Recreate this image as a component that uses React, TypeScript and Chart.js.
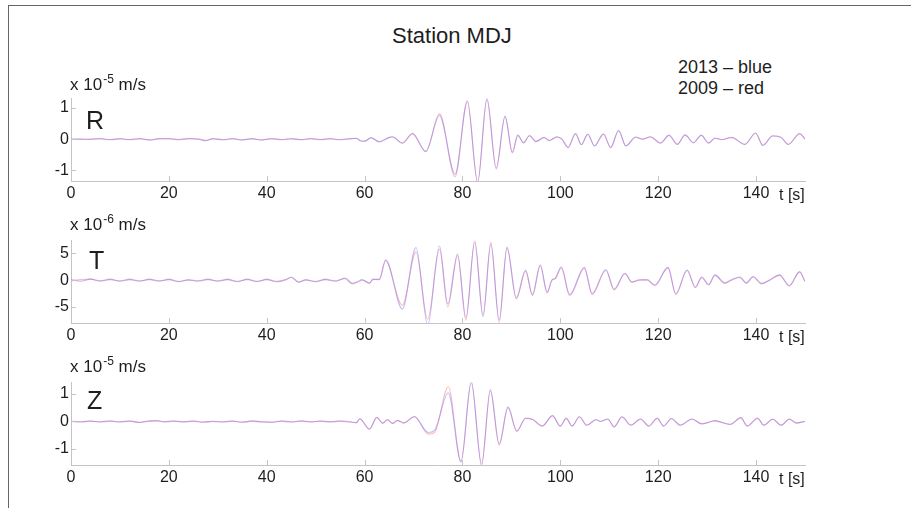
import { useEffect, useRef } from "react";
import { Chart, registerables } from "chart.js";

Chart.register(...registerables);

// ---------- data ----------
const X_TICKS = [0, 20, 40, 60, 80, 100, 120, 140];

const R_TIME = [0, 2, 4, 6, 8, 10, 12, 14, 16, 18, 20, 22, 24, 26, 27.5, 29, 31, 33, 35, 37, 39, 41, 43, 45, 47, 49, 51, 53, 55, 57, 58.3, 59.2, 60, 61.3, 63, 65, 65.7, 67.7, 69.8, 72.5, 75.3, 78.5, 81, 83.1, 85, 86.9, 88.7, 90.2, 91.3, 92.5, 93.7, 95, 96.7, 97.7, 99.3, 100.3, 101.6, 103.1, 104.3, 105.6, 107, 108.8, 110.3, 111.9, 113.4, 115.4, 116.8, 118.4, 120.5, 122.2, 123.9, 125.5, 127.2, 128.8, 130.3, 131.6, 133, 135, 137.7, 139.9, 141.4, 143.4, 145.1, 146.6, 148.9, 150];
const R_2013 = [0, 0.01, -0.01, 0.02, -0.02, 0.01, -0.01, 0.02, -0.03, 0.01, 0.02, -0.01, 0.02, 0, -0.05, 0.01, -0.02, 0.02, -0.02, 0.01, -0.03, 0.02, -0.01, 0.01, -0.02, 0.02, -0.01, 0.02, -0.02, 0.01, 0.03, -0.05, -0.07, 0.05, -0.09, 0.05, 0.08, -0.12, 0.18, -0.39, 0.76, -1.12, 1.2, -1.4, 1.32, -0.92, 0.74, -0.42, 0.13, -0.12, 0.11, -0.07, 0.05, -0.05, 0.08, 0.0, -0.27, 0.18, -0.17, 0.16, -0.22, 0.16, -0.27, 0.28, -0.22, 0.06, 0.0, 0.08, -0.12, 0.13, -0.17, 0.13, -0.12, 0.13, -0.12, 0.03, -0.02, 0.06, -0.17, 0.2, -0.2, 0.1, 0.06, -0.17, 0.18, 0];
const R_2009 = [0, -0.01, 0.01, 0.01, -0.01, 0.02, -0.02, 0.01, -0.02, 0.02, 0.01, -0.02, 0.01, 0.01, -0.04, 0.02, -0.01, 0.01, -0.03, 0.02, -0.02, 0.01, -0.02, 0.02, -0.01, 0.01, -0.02, 0.01, -0.01, 0.02, 0.02, -0.06, -0.06, 0.04, -0.08, 0.06, 0.07, -0.13, 0.17, -0.4, 0.82, -1.2, 1.24, -1.36, 1.26, -0.96, 0.72, -0.44, 0.12, -0.11, 0.12, -0.08, 0.06, -0.04, 0.07, 0.01, -0.25, 0.17, -0.18, 0.15, -0.21, 0.17, -0.26, 0.27, -0.21, 0.07, 0.01, 0.07, -0.13, 0.12, -0.16, 0.14, -0.11, 0.12, -0.13, 0.04, -0.01, 0.05, -0.16, 0.19, -0.19, 0.11, 0.05, -0.16, 0.17, 0.01];

const T_TIME = [0, 2, 4, 6, 8, 10, 12, 14, 16, 18, 20, 22, 24, 26, 28, 30, 32, 34, 36, 38, 40, 42, 44, 45, 46.5, 48, 50, 52, 54, 56, 57.5, 58.5, 59.5, 61, 61.7, 63, 64.3, 67.7, 70.5, 72.9, 75.3, 77, 79, 80.7, 82.5, 84.2, 85.8, 87.5, 89.1, 91, 92.9, 94.3, 95.9, 97.3, 98.3, 99, 100.2, 101.9, 104.9, 106.5, 109.3, 111, 113.2, 114.6, 116.2, 117.8, 119.3, 122, 123.6, 125.9, 127.6, 128.9, 130.3, 131.6, 133.6, 135, 136.7, 138, 139.4, 141.1, 142.8, 144.8, 146.8, 148.9, 150];
const T_2013 = [0.1, -0.2, 0.2, -0.1, 0.2, -0.2, 0.1, -0.2, 0.2, -0.1, 0.1, -0.3, 0.1, -0.1, 0.2, -0.2, 0.1, -0.3, 0.2, -0.2, 0.1, -0.3, 0.1, 0.6, -0.4, 0.1, -0.3, 0.1, -0.2, 0.4, -0.6, -0.3, 0.1, -0.6, 0.2, 0.1, 3.8, -5.4, 6.1, -8.4, 6.4, -4.4, 4.9, -7.0, 7.1, -6.8, 6.8, -7.5, 6.2, -3.3, 1.9, -2.7, 2.9, -2.2, 0.0, 0.4, 2.5, -2.7, 2.4, -2.5, 2.0, -1.7, 1.3, -0.3, 0.0, 0.1, -0.9, 2.4, -2.5, 1.9, -1.3, 0.6, -0.8, 1.0, -0.5, 0.1, 0.6, -0.5, 0.7, -0.6, 0.0, 1.0, -1.0, 1.6, -0.2];
const T_2009 = [-0.1, 0.1, 0.2, -0.2, 0.1, -0.1, 0.2, -0.1, 0.1, -0.2, 0.2, -0.2, 0.0, -0.2, 0.1, -0.1, 0.2, -0.2, 0.1, -0.3, 0.2, -0.2, 0.2, 0.5, -0.3, 0.0, -0.2, 0.2, -0.1, 0.3, -0.7, -0.4, 0.0, -0.5, 0.1, 0.2, 3.6, -4.7, 5.3, -7.3, 5.8, -5.0, 4.6, -7.5, 7.5, -6.5, 7.1, -7.9, 6.0, -3.5, 1.7, -2.9, 2.7, -2.4, 0.1, 0.3, 2.3, -2.9, 2.2, -2.7, 1.8, -1.8, 1.2, -0.4, 0.1, 0.0, -1.0, 2.3, -2.7, 1.8, -1.4, 0.5, -0.9, 0.9, -0.6, 0.0, 0.5, -0.6, 0.6, -0.7, 0.1, 0.9, -1.1, 1.5, -0.3];

const Z_TIME = [0, 2, 4, 6, 8, 10, 12, 14, 16, 17.5, 19, 21, 23, 25, 27, 29, 31, 33, 35, 37, 39, 41, 43, 45, 47, 49, 51, 53, 55, 57, 58.3, 59, 61, 62.5, 63.7, 64.7, 65.7, 66.7, 68, 70.2, 73, 74.3, 77.1, 79.7, 81.8, 83.9, 85.7, 87.5, 89.3, 91.1, 92.9, 94.3, 96.3, 98.4, 100, 101.2, 102.4, 103.9, 105.4, 107.3, 108.2, 109.7, 111, 112.6, 114.4, 116.4, 118.1, 119.8, 121.1, 122.7, 124.5, 126.9, 128.9, 131.6, 134.7, 136.9, 138.2, 140.3, 141.6, 143.4, 145.1, 146.8, 148.2, 150];
const Z_2013 = [0, -0.02, 0.01, -0.01, 0.02, -0.02, 0.01, -0.04, 0.01, 0.03, -0.02, 0.01, -0.02, 0.01, -0.03, 0, -0.02, 0.01, -0.03, 0.02, -0.01, -0.03, 0.01, -0.02, 0.02, -0.01, 0.01, -0.02, 0.01, -0.02, -0.04, 0.1, -0.28, 0.15, -0.06, 0.06, -0.08, 0.03, -0.06, 0.17, -0.4, -0.32, 1.04, -1.47, 1.46, -1.6, 1.16, -0.82, 0.53, -0.34, 0.11, 0.08, -0.17, 0.21, -0.17, 0.11, -0.17, 0.17, -0.14, 0.06, 0.0, 0.09, -0.2, 0.17, -0.14, 0.09, -0.17, 0.11, -0.17, 0.11, -0.14, 0.09, -0.09, 0.02, -0.11, 0.14, -0.17, 0.11, -0.14, 0.09, -0.14, 0.08, -0.06, 0];
const Z_2009 = [0.01, -0.01, 0.02, -0.02, 0.01, -0.01, 0.02, -0.03, 0.02, 0.02, -0.01, 0.02, -0.01, 0.02, -0.02, 0.01, -0.01, 0.02, -0.02, 0.01, -0.02, -0.02, 0.02, -0.01, 0.01, -0.02, 0.02, -0.01, 0.02, -0.01, -0.05, 0.09, -0.27, 0.14, -0.07, 0.07, -0.07, 0.04, -0.05, 0.18, -0.46, -0.4, 1.26, -1.44, 1.4, -1.54, 1.12, -0.86, 0.5, -0.36, 0.12, 0.07, -0.16, 0.2, -0.16, 0.12, -0.16, 0.16, -0.13, 0.07, 0.01, 0.08, -0.19, 0.16, -0.13, 0.08, -0.16, 0.12, -0.16, 0.1, -0.13, 0.08, -0.08, 0.03, -0.1, 0.13, -0.16, 0.12, -0.13, 0.08, -0.13, 0.09, -0.05, 0.01];

const R_YTICKS = [-1, 0, 1];
const T_YTICKS = [-5, 0, 5];
const Z_YTICKS = [-1, 0, 1];

// ---------- styling ----------
const FONT = "'Liberation Sans', Arial, Helvetica, sans-serif";
const AXIS_COLOR = "#c4c4c4";
const TEXT_COLOR = "#1e1e1e";
const BLUE = "rgba(120,120,255,0.5)";
const RED = "rgba(255,120,120,0.5)";

const PAD_TOP = 6;
const AREA_H = 88;
const XAXIS_H = 28;
const AREA_LEFT = 71;
const AREA_RIGHT = 805;
const W = 911;

const innerTicks = {
  id: "innerTicks",
  afterDraw(chart: any) {
    const { ctx, chartArea } = chart;
    const xs = chart.scales.x;
    const ys = chart.scales.y;
    ctx.save();
    ctx.strokeStyle = AXIS_COLOR;
    ctx.lineWidth = 1;
    ctx.beginPath();
    xs.ticks.forEach((t: any) => {
      const px = Math.round(xs.getPixelForValue(t.value)) + 0.5;
      ctx.moveTo(px, chartArea.bottom);
      ctx.lineTo(px, chartArea.bottom - 5);
    });
    ys.ticks.forEach((t: any) => {
      const py = Math.round(ys.getPixelForValue(t.value)) + 0.5;
      ctx.moveTo(chartArea.left, py);
      ctx.lineTo(chartArea.left + 5, py);
    });
    ctx.stroke();
    ctx.restore();
  },
};

type PanelProps = {
  top: number;
  time: number[];
  blue: number[];
  red: number[];
  yMin: number;
  yMax: number;
  yTicks: number[];
};

function Panel({ top, time, blue, red, yMin, yMax, yTicks }: PanelProps) {
  const ref = useRef<HTMLCanvasElement | null>(null);
  useEffect(() => {
    if (!ref.current) return;
    const chart = new Chart(ref.current, {
      type: "line",
      data: {
        datasets: [
          {
            label: "2013",
            data: time.map((t, i) => ({ x: t, y: blue[i] })),
            borderColor: BLUE,
            borderWidth: 1.1,
            pointRadius: 0,
            cubicInterpolationMode: "monotone",
          },
          {
            label: "2009",
            data: time.map((t, i) => ({ x: t, y: red[i] })),
            borderColor: RED,
            borderWidth: 1.1,
            pointRadius: 0,
            cubicInterpolationMode: "monotone",
          },
        ],
      },
      options: {
        animation: false,
        responsive: false,
        devicePixelRatio: 1,
        events: [],
        layout: { padding: { top: PAD_TOP, right: W - AREA_RIGHT, left: 0, bottom: 0 } },
        plugins: { legend: { display: false }, tooltip: { enabled: false }, title: { display: false } },
        scales: {
          x: {
            type: "linear",
            min: 0,
            max: 150,
            afterBuildTicks: (s: any) => {
              s.ticks = X_TICKS.map((v) => ({ value: v }));
            },
            afterFit: (s: any) => {
              s.height = XAXIS_H;
            },
            grid: { display: true, drawOnChartArea: false, drawTicks: false, color: AXIS_COLOR },
            border: { display: true, color: AXIS_COLOR, width: 1 },
            ticks: {
              padding: 3,
              maxRotation: 0,
              autoSkip: false,
              color: TEXT_COLOR,
              font: { family: FONT, size: 16 },
              callback: (v: any) => String(v),
            },
          },
          y: {
            type: "linear",
            min: yMin,
            max: yMax,
            afterBuildTicks: (s: any) => {
              s.ticks = yTicks.map((v) => ({ value: v }));
            },
            afterFit: (s: any) => {
              s.width = AREA_LEFT;
            },
            grid: { display: true, drawOnChartArea: false, drawTicks: false, color: AXIS_COLOR },
            border: { display: true, color: AXIS_COLOR, width: 1 },
            ticks: {
              padding: 2,
              autoSkip: false,
              color: TEXT_COLOR,
              font: { family: FONT, size: 16 },
              callback: (v: any) => String(v),
            },
          },
        },
      } as any,
      plugins: [innerTicks],
    });
    return () => chart.destroy();
  }, []);
  return (
    <canvas
      ref={ref}
      width={W}
      height={PAD_TOP + AREA_H + XAXIS_H}
      style={{ position: "absolute", left: 0, top: top - PAD_TOP, width: W, height: PAD_TOP + AREA_H + XAXIS_H }}
    />
  );
}

const txt = (extra: any) => ({
  position: "absolute" as const,
  fontFamily: FONT,
  color: TEXT_COLOR,
  lineHeight: 1,
  whiteSpace: "nowrap" as const,
  ...extra,
});

function Unit({ top, exp }: { top: number; exp: string }) {
  return (
    <div style={txt({ left: 70, top, fontSize: 17 })}>
      x 10<span style={{ fontSize: 12, position: "relative", top: -7, marginLeft: 1 }}>{exp}</span> m/s
    </div>
  );
}

export default function App() {
  return (
    <div style={{ position: "absolute", left: 0, top: 0, width: W, height: 508, background: "#fff", overflow: "hidden" }}>
      <div style={{ position: "absolute", left: 8, top: 5, width: W - 8, height: 0, borderTop: "1px solid #666" }} />
      <div style={{ position: "absolute", left: 8, top: 5, width: 0, height: 508, borderLeft: "1px solid #666" }} />

      <div style={txt({ left: 392, top: 25, fontSize: 22 })}>Station MDJ</div>
      <div style={txt({ left: 678, top: 58, fontSize: 18 })}>2013 – blue</div>
      <div style={txt({ left: 678, top: 79, fontSize: 18 })}>2009 – red</div>

      <Panel top={93} time={R_TIME} blue={R_2013} red={R_2009} yMin={-1.34} yMax={1.3} yTicks={R_YTICKS} />
      <Panel top={235} time={T_TIME} blue={T_2013} red={T_2009} yMin={-8} yMax={7.4} yTicks={T_YTICKS} />
      <Panel top={377} time={Z_TIME} blue={Z_2013} red={Z_2009} yMin={-1.58} yMax={1.41} yTicks={Z_YTICKS} />

      <Unit top={76} exp="-5" />
      <Unit top={216} exp="-6" />
      <Unit top={358} exp="-5" />

      <div style={txt({ left: 86, top: 108, fontSize: 25 })}>R</div>
      <div style={txt({ left: 89, top: 248, fontSize: 25 })}>T</div>
      <div style={txt({ left: 87, top: 388, fontSize: 25 })}>Z</div>

      <div style={txt({ left: 779, top: 187, fontSize: 16 })}>t [s]</div>
      <div style={txt({ left: 779, top: 329, fontSize: 16 })}>t [s]</div>
      <div style={txt({ left: 779, top: 471, fontSize: 16 })}>t [s]</div>
    </div>
  );
}
